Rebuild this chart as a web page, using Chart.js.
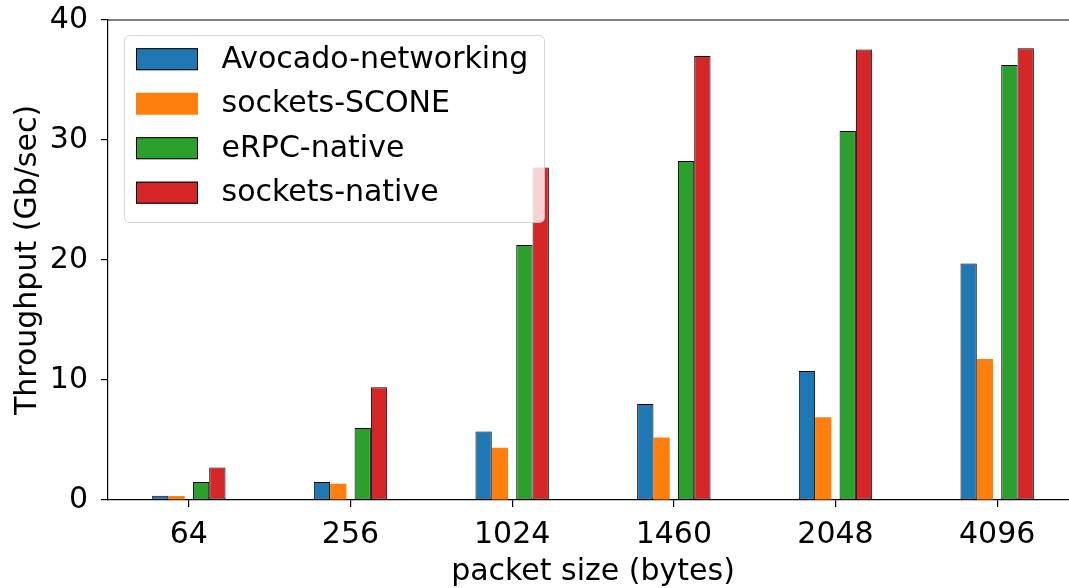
<!DOCTYPE html>
<html lang="en">
<head>
  <meta charset="UTF-8">
  <title>Throughput vs packet size</title>
  <style>
    html, body {
      margin: 0;
      padding: 0;
      background: #fff;
      overflow: hidden;
    }
    #wrap {
      width: 1090px;
      height: 588px;
    }
  </style>
</head>
<body>
  <div id="wrap">
    <canvas id="tputChart"></canvas>
  </div>

  <script src="https://cdn.jsdelivr.net/npm/chart.js"></script>
  <script>
    const packetSizes = ['64', '256', '1024', '1460', '2048', '4096'];
    const avocado     = [0.35, 1.5, 5.7, 8.0, 10.75, 19.7];
    const sconeSock   = [0.33, 1.35, 4.35, 5.2, 6.9, 11.75];
    const erpcNative  = [1.5, 6.0, 21.25, 28.25, 30.75, 36.25];
    const sockNative  = [2.7, 9.4, 27.7, 37.0, 37.55, 37.65];
    const yTicks      = [0, 10, 20, 30, 40];

    const FONT = "'DejaVu Sans', sans-serif";
    const FSIZE = 30;

    // a bar is two slots wide; empty datasets act as spacers so the
    // two pairs of bars sit a little apart like in the original
    function bars(label, data, color, edge) {
      return {
        label: label,
        data: data,
        backgroundColor: color,
        borderColor: '#000',
        borderWidth: edge ? 1 : 0,
        borderSkipped: false,
        barPercentage: 2,
        categoryPercentage: 0.4035
      };
    }
    function spacer() {
      return { label: '', data: [], spacer: true, barPercentage: 2, categoryPercentage: 0.4035 };
    }

    // top spine + legend box in the upper left corner
    const frame = {
      id: 'frame',
      afterDatasetsDraw(chart) {
        const ctx = chart.ctx;
        const a = chart.chartArea;
        ctx.save();
        ctx.strokeStyle = '#000';
        ctx.lineWidth = 1.2;
        ctx.beginPath();
        ctx.moveTo(a.left, a.top);
        ctx.lineTo(a.right, a.top);
        ctx.stroke();

        // legend
        const x0 = 124, y0 = 35, w = 420, h = 187, r = 5;
        ctx.beginPath();
        ctx.roundRect(x0 + 0.5, y0 + 0.5, w, h, r);
        ctx.fillStyle = 'rgba(255,255,255,0.8)';
        ctx.fill();
        ctx.strokeStyle = 'rgba(204,204,204,0.8)';
        ctx.lineWidth = 1;
        ctx.stroke();

        const items = chart.data.datasets.filter(d => !d.spacer);
        ctx.font = FSIZE + 'px ' + FONT;
        ctx.textBaseline = 'middle';
        ctx.textAlign = 'left';
        items.forEach((d, i) => {
          const cy = 59.2 + i * 44.5;
          ctx.fillStyle = d.backgroundColor;
          ctx.fillRect(136, cy - 11, 62, 22);
          if (d.borderWidth) {
            ctx.strokeStyle = '#000';
            ctx.lineWidth = 1;
            ctx.strokeRect(136.5, cy - 10.5, 61, 21);
          }
          ctx.fillStyle = '#000';
          ctx.fillText(d.label, 221.5, cy + 1);
        });
        ctx.restore();
      }
    };

    const ctx = document.getElementById('tputChart').getContext('2d');
    new Chart(ctx, {
      type: 'bar',
      data: {
        labels: packetSizes,
        datasets: [
          bars('Avocado-networking', avocado, '#1f77b4', true),
          spacer(),
          bars('sockets-SCONE', sconeSock, '#ff7f0e', false),
          spacer(),
          spacer(),
          bars('eRPC-native', erpcNative, '#2ca02c', true),
          spacer(),
          bars('sockets-native', sockNative, '#d62728', true)
        ]
      },
      options: {
        responsive: true,
        maintainAspectRatio: false,
        animation: false,
        layout: { padding: { top: 20, right: 12, left: 0, bottom: 0 } },
        plugins: {
          legend: { display: false },
          tooltip: { enabled: false }
        },
        scales: {
          x: {
            offset: true,
            grid: {
              display: true,
              drawOnChartArea: false,
              offset: false,
              tickLength: 7,
              color: '#000',
              lineWidth: 1.2
            },
            border: { display: true, color: '#000', width: 1.2 },
            ticks: {
              color: '#000',
              padding: 10,
              maxRotation: 0,
              font: { family: FONT, size: FSIZE }
            },
            title: {
              display: true,
              text: 'packet size (bytes)',
              color: '#000',
              padding: { top: 0, bottom: -2 },
              font: { family: FONT, size: FSIZE }
            },
            afterFit(scale) {
              scale.height = 88;
              scale.paddingLeft = 0;
              scale.paddingRight = 0;
            }
          },
          y: {
            min: 0,
            max: 40,
            afterBuildTicks(scale) { scale.ticks = yTicks.map(v => ({ value: v })); },
            grid: {
              display: true,
              drawOnChartArea: false,
              tickLength: 7,
              color: '#000',
              lineWidth: 1.2
            },
            border: { display: true, color: '#000', width: 1.2 },
            ticks: {
              color: '#000',
              padding: 13,
              font: { family: FONT, size: FSIZE }
            },
            title: {
              display: true,
              text: 'Throughput (Gb/sec)',
              color: '#000',
              padding: { top: 10, bottom: 0 },
              font: { family: FONT, size: FSIZE }
            },
            afterFit(scale) {
              scale.width = 108;
              scale.paddingTop = 0;
              scale.paddingBottom = 0;
            }
          }
        }
      },
      plugins: [frame]
    });
  </script>
</body>
</html>
